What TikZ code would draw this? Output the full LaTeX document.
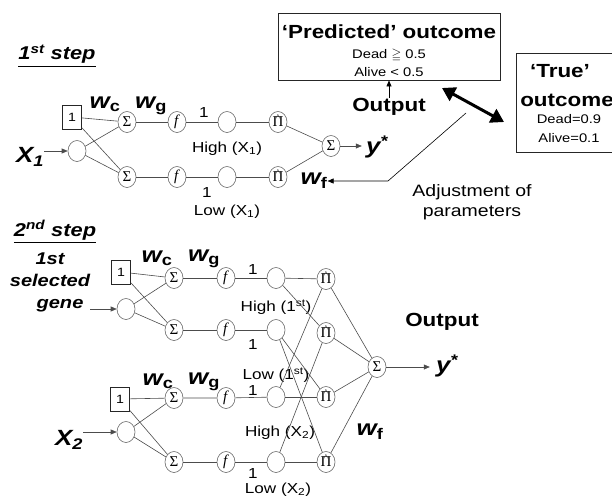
\documentclass[tikz,border=0pt]{standalone}
\usepackage{amssymb}
\usepackage[no-math]{fontspec}
\setmainfont{Liberation Sans}[FakeStretch=1.18]
\newfontfamily\serifsym{Liberation Serif}
\newcommand{\prodsym}{\ooalign{Π\cr\hidewidth\raisebox{6.5pt}{\fontsize{9}{9}\selectfont\textasciicircum}\hidewidth\cr}}
\usetikzlibrary{shapes.geometric,arrows.meta}

\begin{document}
\begin{tikzpicture}[x=1pt,y=-1pt,
  neur/.style={ellipse,draw=black!60,line width=0.6pt,inner sep=0pt,
    minimum width=18pt,minimum height=21pt,font=\serifsym\fontsize{15}{15}\selectfont},
  biasbox/.style={draw=black!85,line width=0.7pt,inner sep=0pt,
    minimum width=19pt,minimum height=24pt,font=\fontsize{12}{12}\selectfont},
  link/.style={draw=black!70,line width=0.6pt},
  tip/.style={-{Triangle[length=6pt,width=5pt]}},
  wlab/.style={font=\fontsize{22}{22}\selectfont\bfseries\itshape,inner sep=0pt},
  lab/.style={font=\fontsize{14.5}{16}\selectfont,inner sep=0pt},
  small/.style={font=\fontsize{12.5}{14}\selectfont,inner sep=0pt},
  head/.style={font=\fontsize{19}{21}\selectfont\bfseries,inner sep=0pt},
  steptitle/.style={font=\fontsize{18.5}{20}\selectfont\bfseries\itshape,inner sep=0pt},
  outbox/.style={draw=black!85,line width=0.9pt}]
\path[use as bounding box,clip] (0,0) rectangle (612,498);

% ---- first step ----
\node[steptitle] (title1) at (57,56) {\underline{1\textsuperscript{st} step}};
\node[biasbox] (box1a) at (72,117) {1};
\node[neur] (in1) at (77,151) {};
\node[wlab] (x1) at (30,157) {X\textsubscript{1}};
\node[neur] (s1a) at (127,122) {Σ};
\node[neur] (s1b) at (127,177) {Σ};
\node[neur] (f1a) at (177,122) {\textit{f}};
\node[neur] (f1b) at (177,177) {\textit{f}};
\node[neur] (m1a) at (227,122) {};
\node[neur] (m1b) at (227,177) {};
\node[neur] (p1a) at (278,122) {\prodsym};
\node[neur] (p1b) at (278,177) {\prodsym};
\node[neur] (o1) at (331,146) {Σ};
\node[wlab] (ys1) at (377,147) {y\textsuperscript{*}};
\node[wlab] (wc1) at (105,104) {w\textsubscript{\upshape c}};
\node[wlab] (wg1) at (151,106) {w\textsubscript{\upshape g}};
\node[wlab] (wf1) at (314,181) {w\textsubscript{\upshape f}};
\node[lab] (one1a) at (204,113) {1};
\node[lab] (one1b) at (207,193) {1};
\node[lab] (hi1) at (227,149) {High (X\textsubscript{1})};
\node[lab] (lo1) at (227,212) {Low (X\textsubscript{1})};

\draw[link,tip] (x1.east |- in1) -- (in1);
\draw[link] (box1a) -- (s1a);
\draw[link] (box1a) -- (s1b);
\draw[link] (in1) -- (s1a);
\draw[link] (in1) -- (s1b);
\draw[link] (s1a) -- (f1a) -- (m1a) -- (p1a);
\draw[link] (s1b) -- (f1b) -- (m1b) -- (p1b);
\draw[link] (p1a) -- (o1);
\draw[link] (p1b) -- (o1);
\draw[link,tip,shorten >=4pt] (o1) -- (ys1.west |- o1);

% outcome boxes
\node[outbox,minimum width=222pt,minimum height=67pt] (pred) at (389,46.5) {};
\node[head] (predt) at (389,32) {‘Predicted’ outcome};
\node[small] (pred1) at (389,55) {Dead $\geqq$ 0.5};
\node[small] (pred2) at (389,72) {Alive < 0.5};
\node[head] (out1) at (389,107) {Output};
\draw[link,tip,black] (out1.north) -- (pred.south);

\node[outbox,minimum width=104pt,minimum height=99pt] (truebox) at (568,102.5) {};
\node[head] (truet) at (560,71) {‘True’};
\node[head] (truet2) at (567,100) {outcome};
\node[small] (true1) at (569,119) {Dead=0.9};
\node[small] (true2) at (569,138) {Alive=0.1};

\coordinate (dblA) at (442,88);
\coordinate (dblB) at (504,122);
\draw[line width=3pt,{Triangle[length=13pt,width=15pt]}-{Triangle[length=13pt,width=15pt]}] (dblA) -- (dblB);

\coordinate (adjA) at (466,113);
\coordinate (adjB) at (388,181);
\draw[link,black,tip] (adjA) -- (adjB) -- (wf1.east |- adjB);
\node[lab,font=\fontsize{16.5}{20}\selectfont,align=center] (adj) at (472,202) {Adjustment of\\parameters};

% ---- second step ----
\node[steptitle] (title2) at (55,232) {\underline{2\textsuperscript{nd} step}};
\node[steptitle,font=\fontsize{17}{22}\selectfont\bfseries\itshape,align=center] (gene) at (50,282) {1st\\selected\\\hspace*{20pt}gene};
\node[biasbox] (box2a) at (121,272) {1};
\node[neur] (in2) at (126,309) {};
\node[neur] (s2a) at (174,278) {Σ};
\node[neur] (s2b) at (174,330) {Σ};
\node[neur] (f2a) at (226,278) {\textit{f}};
\node[neur] (f2b) at (226,330) {\textit{f}};
\node[neur] (m2a) at (276,278) {};
\node[neur] (m2b) at (276,330) {};
\node[wlab] (wc2) at (157,258) {w\textsubscript{\upshape c}};
\node[wlab] (wg2) at (204,259) {w\textsubscript{\upshape g}};
\node[lab] (one2a) at (253,270) {1};
\node[lab] (one2b) at (253,345) {1};
\node[lab] (hi2) at (276,307) {High (1\textsuperscript{st})};
\node[lab] (lo2) at (276,375) {Low (1\textsuperscript{st})};

\node[biasbox] (box2b) at (120,399) {1};
\node[neur] (in3) at (126,432) {};
\node[wlab] (x2) at (69,440) {X\textsubscript{2}};
\node[neur] (s2c) at (174,398) {Σ};
\node[neur] (s2d) at (174,462) {Σ};
\node[neur] (f2c) at (226,398) {\textit{f}};
\node[neur] (f2d) at (226,462) {\textit{f}};
\node[neur] (m2c) at (276,397) {};
\node[neur] (m2d) at (276,462) {};
\node[wlab] (wc3) at (158,381) {w\textsubscript{\upshape c}};
\node[wlab] (wg3) at (204,382) {w\textsubscript{\upshape g}};
\node[lab] (one2c) at (253,391) {1};
\node[lab] (one2d) at (253,474) {1};
\node[lab] (hi3) at (280,433) {High (X\textsubscript{2})};
\node[lab] (lo3) at (278,489.5) {Low (X\textsubscript{2})};

\node[neur] (p2a) at (326,279) {\prodsym};
\node[neur] (p2b) at (326,333) {\prodsym};
\node[neur] (p2c) at (326,397) {\prodsym};
\node[neur] (p2d) at (326,462) {\prodsym};
\node[neur] (o2) at (377,367) {Σ};
\node[wlab] (ys2) at (447,366) {y\textsuperscript{*}};
\node[head] (out2) at (442,322) {Output};
\node[wlab] (wf2) at (370,432) {w\textsubscript{\upshape f}};

\draw[link,tip] (gene.east |- in2) -- (in2);
\draw[link,tip] (x2.east |- in3) -- (in3);
\draw[link] (box2a) -- (s2a);
\draw[link] (box2a) -- (s2b);
\draw[link] (in2) -- (s2a);
\draw[link] (in2) -- (s2b);
\draw[link] (box2b) -- (s2c);
\draw[link] (box2b) -- (s2d);
\draw[link] (in3) -- (s2c);
\draw[link] (in3) -- (s2d);
\draw[link] (s2a) -- (f2a) -- (m2a);
\draw[link] (s2b) -- (f2b) -- (m2b);
\draw[link] (s2c) -- (f2c) -- (m2c);
\draw[link] (s2d) -- (f2d) -- (m2d);
% every high/low pair meets in one product node
\draw[link] (m2a) -- (p2a);
\draw[link] (m2a) -- (p2b);
\draw[link] (m2b) -- (p2c);
\draw[link] (m2b) -- (p2d);
\draw[link] (m2c) -- (p2a);
\draw[link] (m2c) -- (p2c);
\draw[link] (m2d) -- (p2b);
\draw[link] (m2d) -- (p2d);
\foreach \p in {p2a,p2b,p2c,p2d}
  \draw[link] (\p) -- (o2);
\draw[link,tip,shorten >=6pt] (o2) -- (ys2.west |- o2);
\end{tikzpicture}
\end{document}
